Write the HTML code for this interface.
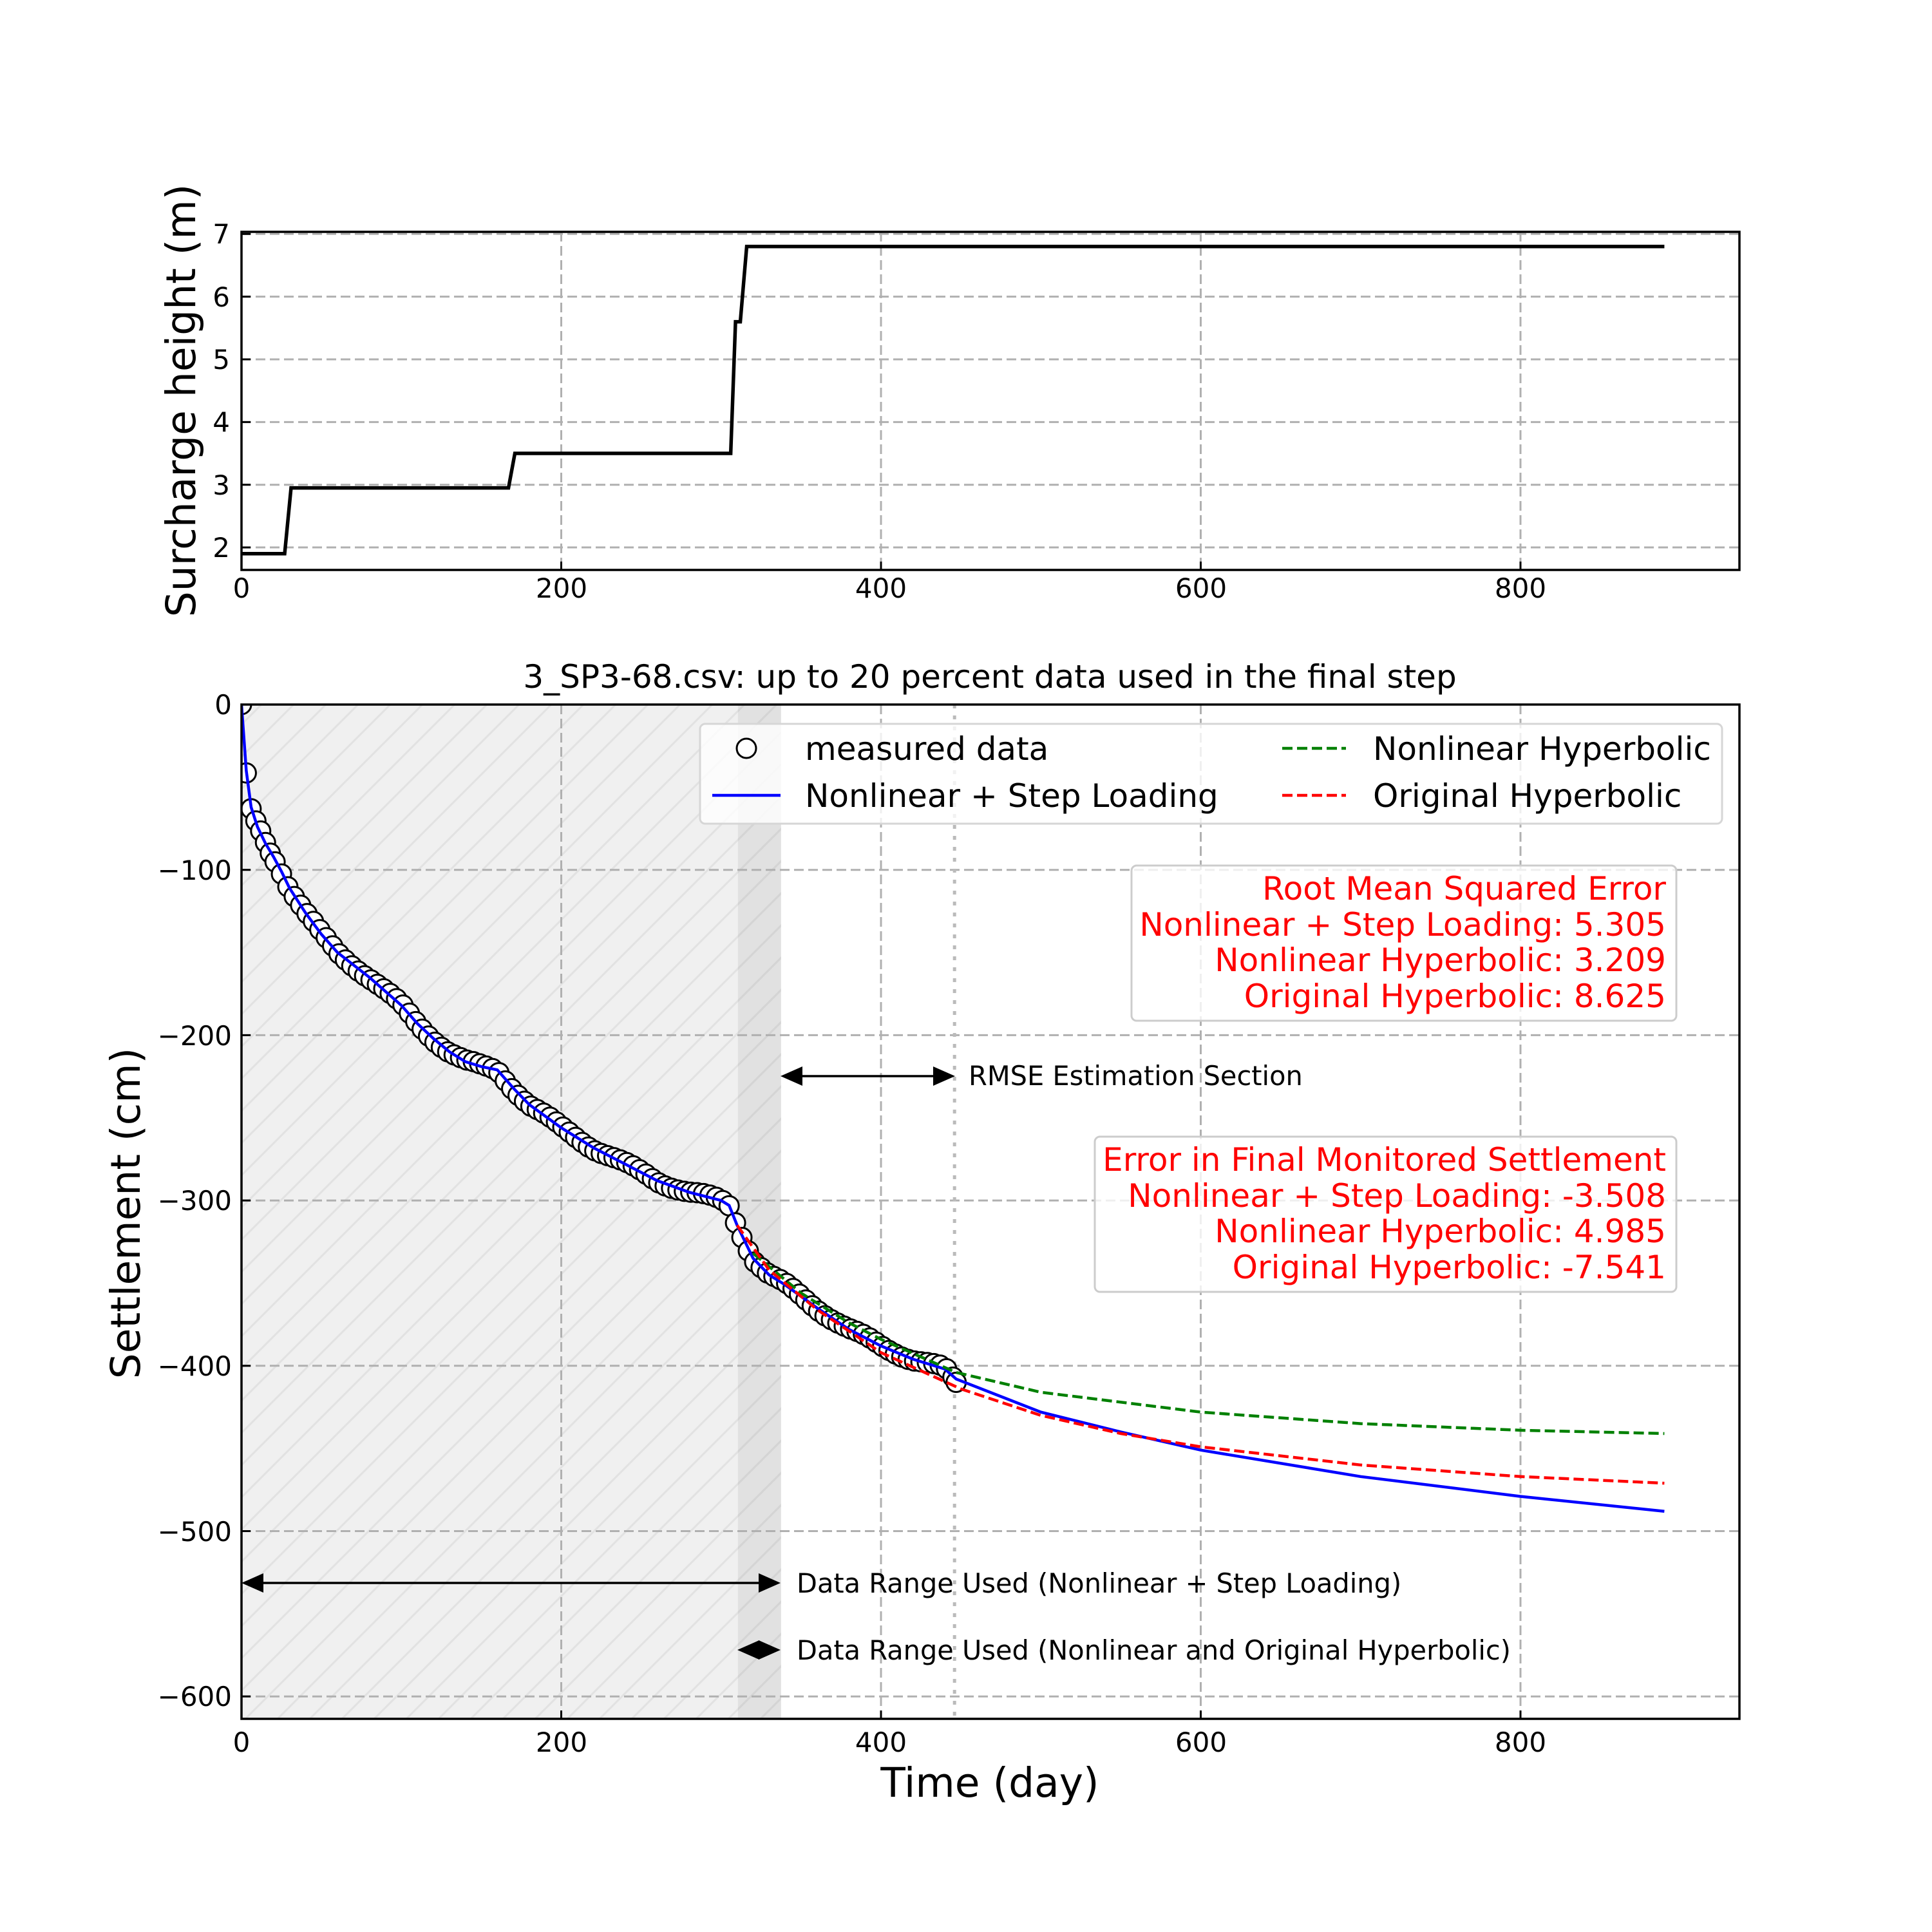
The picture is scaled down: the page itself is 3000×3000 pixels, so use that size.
<!DOCTYPE html>
<html><head><meta charset="utf-8"><style>
html,body{margin:0;padding:0;background:#fff;}
svg{display:block;font-family:"DejaVu Sans","Liberation Sans",sans-serif;}
</style></head><body>
<svg id="s" width="3000" height="3000" viewBox="0 0 3000 3000" xmlns="http://www.w3.org/2000/svg">
<defs>
<pattern id="hatch" patternUnits="userSpaceOnUse" width="50" height="50">
<rect width="50" height="50" fill="#f0f0f0"/>
<path d="M-10,60 L60,-10 M-10,10 L10,-10 M40,60 L60,40" stroke="#e2e2e2" stroke-width="3"/>
</pattern>
<clipPath id="c1"><rect x="375" y="1094" width="2326" height="1575"/></clipPath>
<clipPath id="c0"><rect x="375" y="360" width="2326" height="525"/></clipPath>
</defs>
<rect width="3000" height="3000" fill="#fff"/>

<g id="top"></g>
<g id="bot"></g>

<g font-size="42" fill="#000">
<text x="357" y="378" text-anchor="end">7</text>
<text x="357" y="476" text-anchor="end">6</text>
<text x="357" y="573" text-anchor="end">5</text>
<text x="357" y="670" text-anchor="end">4</text>
<text x="357" y="768" text-anchor="end">3</text>
<text x="357" y="865" text-anchor="end">2</text>
<text x="375" y="928" text-anchor="middle">0</text>
<text x="872" y="928" text-anchor="middle">200</text>
<text x="1368" y="928" text-anchor="middle">400</text>
<text x="1865" y="928" text-anchor="middle">600</text>
<text x="2361" y="928" text-anchor="middle">800</text>
<text x="360" y="1109" text-anchor="end">0</text>
<text x="360" y="1366" text-anchor="end">−100</text>
<text x="360" y="1623" text-anchor="end">−200</text>
<text x="360" y="1879" text-anchor="end">−300</text>
<text x="360" y="2136" text-anchor="end">−400</text>
<text x="360" y="2393" text-anchor="end">−500</text>
<text x="360" y="2649" text-anchor="end">−600</text>
<text x="375" y="2720" text-anchor="middle">0</text>
<text x="872" y="2720" text-anchor="middle">200</text>
<text x="1368" y="2720" text-anchor="middle">400</text>
<text x="1865" y="2720" text-anchor="middle">600</text>
<text x="2361" y="2720" text-anchor="middle">800</text>
</g>

<text x="1537" y="1068" font-size="50" text-anchor="middle">3_SP3-68.csv: up to 20 percent data used in the final step</text>
<text x="1537" y="2790" font-size="63" text-anchor="middle">Time (day)</text>
<text transform="translate(303,622) rotate(-90)" font-size="63" text-anchor="middle">Surcharge height (m)</text>
<text transform="translate(217,1884) rotate(-90)" font-size="63" text-anchor="middle">Settlement (cm)</text>

<rect x="1087" y="1124" width="1587" height="155" rx="8" fill="#fff" fill-opacity="0.8" stroke="#d6d6d6" stroke-width="3"/>
<circle cx="1159" cy="1162" r="15" fill="#fff" stroke="#000" stroke-width="3"/>
<line x1="1106" y1="1235" x2="1212" y2="1235" stroke="#0000ff" stroke-width="4.5"/>
<line x1="1991" y1="1162" x2="2090" y2="1162" stroke="#008000" stroke-width="4.5" stroke-dasharray="16,7"/>
<line x1="1991" y1="1235" x2="2090" y2="1235" stroke="#ff0000" stroke-width="4.5" stroke-dasharray="16,7"/>
<g font-size="50">
<text x="1250" y="1180">measured data</text>
<text x="1250" y="1253">Nonlinear + Step Loading</text>
<text x="2132" y="1180">Nonlinear Hyperbolic</text>
<text x="2132" y="1253">Original Hyperbolic</text>
</g>

<rect x="1757" y="1344" width="846" height="241" rx="8" fill="#fff" fill-opacity="0.8" stroke="#cccccc" stroke-width="3"/>
<g font-size="50" fill="#ff0000" text-anchor="end">
<text x="2587" y="1397">Root Mean Squared Error</text>
<text x="2587" y="1453">Nonlinear + Step Loading: 5.305</text>
<text x="2587" y="1508">Nonlinear Hyperbolic: 3.209</text>
<text x="2587" y="1564">Original Hyperbolic: 8.625</text>
</g>
<rect x="1700" y="1765" width="903" height="241" rx="8" fill="#fff" fill-opacity="0.8" stroke="#cccccc" stroke-width="3"/>
<g font-size="50" fill="#ff0000" text-anchor="end">
<text x="2587" y="1818">Error in Final Monitored Settlement</text>
<text x="2587" y="1874">Nonlinear + Step Loading: -3.508</text>
<text x="2587" y="1929">Nonlinear Hyperbolic: 4.985</text>
<text x="2587" y="1985">Original Hyperbolic: -7.541</text>
</g>

<g stroke="#000" stroke-width="3.5" fill="#000">
<line x1="1240" y1="1671" x2="1455" y2="1671"/>
<polygon points="1212,1671 1246,1656 1246,1686" stroke="none"/>
<polygon points="1483,1671 1449,1656 1449,1686" stroke="none"/>
<line x1="403" y1="2458" x2="1184" y2="2458"/>
<polygon points="375,2458 409,2443 409,2473" stroke="none"/>
<polygon points="1212,2458 1178,2443 1178,2473" stroke="none"/>
<polygon points="1145,2562 1179,2547 1179,2577" stroke="none"/>
<polygon points="1212,2562 1178,2547 1178,2577" stroke="none"/>
</g>
<g font-size="41.5">
<text x="1504" y="1685">RMSE Estimation Section</text>
<text x="1237" y="2473">Data Range Used (Nonlinear + Step Loading)</text>
<text x="1237" y="2577">Data Range Used (Nonlinear and Original Hyperbolic)</text>
</g>
</svg>
<script>
(function(){
var NS="http://www.w3.org/2000/svg";
function el(p,t,a){var e=document.createElementNS(NS,t);for(var k in a)e.setAttribute(k,a[k]);p.appendChild(e);return e;}
var X=function(d){return 375+2.4825*d;};
var YT=function(h){return 363.3+(7-h)*97.35;};
var YB=function(s){return 1094-s*2.567;};
var top=document.getElementById('top'), bot=document.getElementById('bot');
var grid={stroke:"#b0b0b0","stroke-width":3,"stroke-dasharray":"15,7",fill:"none"};
[200,400,600,800].forEach(function(d){el(top,'line',Object.assign({x1:X(d),x2:X(d),y1:360,y2:885},grid));});
[2,3,4,5,6,7].forEach(function(h){el(top,'line',Object.assign({x1:375,x2:2701,y1:YT(h),y2:YT(h)},grid));});
var sp=[[0,1.9],[27,1.9],[31,2.95],[167,2.95],[171,3.5],[306,3.5],[309,5.6],[312,5.6],[316,6.8],[890,6.8]];
el(top,'polyline',{points:sp.map(function(p){return X(p[0])+','+YT(p[1]);}).join(' '),fill:"none",stroke:"#000","stroke-width":5.5,"clip-path":"url(#c0)"});
[0,200,400,600,800].forEach(function(d){el(top,'line',{x1:X(d),x2:X(d),y1:885,y2:872,stroke:"#000","stroke-width":3});});
[2,3,4,5,6,7].forEach(function(h){el(top,'line',{x1:375,x2:389,y1:YT(h),y2:YT(h),stroke:"#000","stroke-width":3});});
el(top,'rect',{x:375,y:360,width:2326,height:525,fill:"none",stroke:"#000","stroke-width":3.5});
el(bot,'rect',{x:375,y:1094,width:X(337.5)-375,height:1575,fill:"url(#hatch)"});
el(bot,'rect',{x:X(310.5),y:1094,width:X(337.5)-X(310.5),height:1575,fill:"#000","fill-opacity":0.06});
[200,400,600,800].forEach(function(d){el(bot,'line',Object.assign({x1:X(d),x2:X(d),y1:1094,y2:2669},grid));});
[-100,-200,-300,-400,-500,-600].forEach(function(s){el(bot,'line',Object.assign({x1:375,x2:2701,y1:YB(s),y2:YB(s)},grid));});
el(bot,'line',{x1:X(446),x2:X(446),y1:1094,y2:2669,stroke:"#bbbbbb","stroke-width":5,"stroke-dasharray":"6,11"});
var data=[[0,0],[3,-40],[6,-62],[10,-74],[15,-84],[20,-92],[25,-101],[30,-111],[40,-126],[50,-139],[60,-150],[80,-165],[100,-182],[110,-193],[120,-202],[130,-210],[140,-216],[150,-219],[160,-221],[170,-232],[180,-242],[200,-256],[220,-268],[240,-278],[260,-288],[280,-295],[300,-300],[305,-303],[310,-315],[315,-325],[320,-335],[330,-345],[340,-351],[360,-365],[380,-378],[400,-388],[420,-396],[440,-402],[447,-410]];
function interp(d){for(var i=1;i<data.length;i++){if(d<=data[i][0]){var a=data[i-1],b=data[i];return a[1]+(b[1]-a[1])*(d-a[0])/(b[0]-a[0]);}}return data[data.length-1][1];}
var g=el(bot,'g',{"clip-path":"url(#c1)"});
var pts=[];for(var d=0;d<=447;d+=(d<20?3:4)){pts.push([d,interp(d)+(Math.sin(d*1.7)*1.5)]);}
pts.push([447,-410]);
function pl(arr,col,dash){var a={points:arr.map(function(p){return X(p[0]).toFixed(1)+','+YB(p[1]).toFixed(1);}).join(' '),fill:"none",stroke:col,"stroke-width":4.5};if(dash)a["stroke-dasharray"]=dash;el(g,'polyline',a);}
pts.forEach(function(p){el(g,'circle',{cx:X(p[0]),cy:YB(p[1]),r:15,fill:"#fff",stroke:"#000","stroke-width":3});});
var blue=data.slice(0,-1).concat([[447,-408],[500,-428],[550,-440],[600,-451],[700,-467],[800,-479],[890,-488]]);
pl(blue,"#0000ff");
pl([[320,-332],[350,-356],[380,-374],[400,-384],[447,-404],[500,-416],[600,-428],[700,-435],[800,-439],[890,-441]],"#008000","16,7");
pl([[310,-315],[330,-342],[360,-366],[400,-392],[450,-414],[500,-430],[550,-441],[600,-449],[700,-460],[800,-467],[890,-471]],"#ff0000","16,7");
[0,200,400,600,800].forEach(function(d){el(bot,'line',{x1:X(d),x2:X(d),y1:2669,y2:2656,stroke:"#000","stroke-width":3});});
[0,-100,-200,-300,-400,-500,-600].forEach(function(s){el(bot,'line',{x1:375,x2:389,y1:YB(s),y2:YB(s),stroke:"#000","stroke-width":3});});
el(bot,'rect',{x:375,y:1094,width:2326,height:1575,fill:"none",stroke:"#000","stroke-width":3.5});
})();
</script>
</body></html>
